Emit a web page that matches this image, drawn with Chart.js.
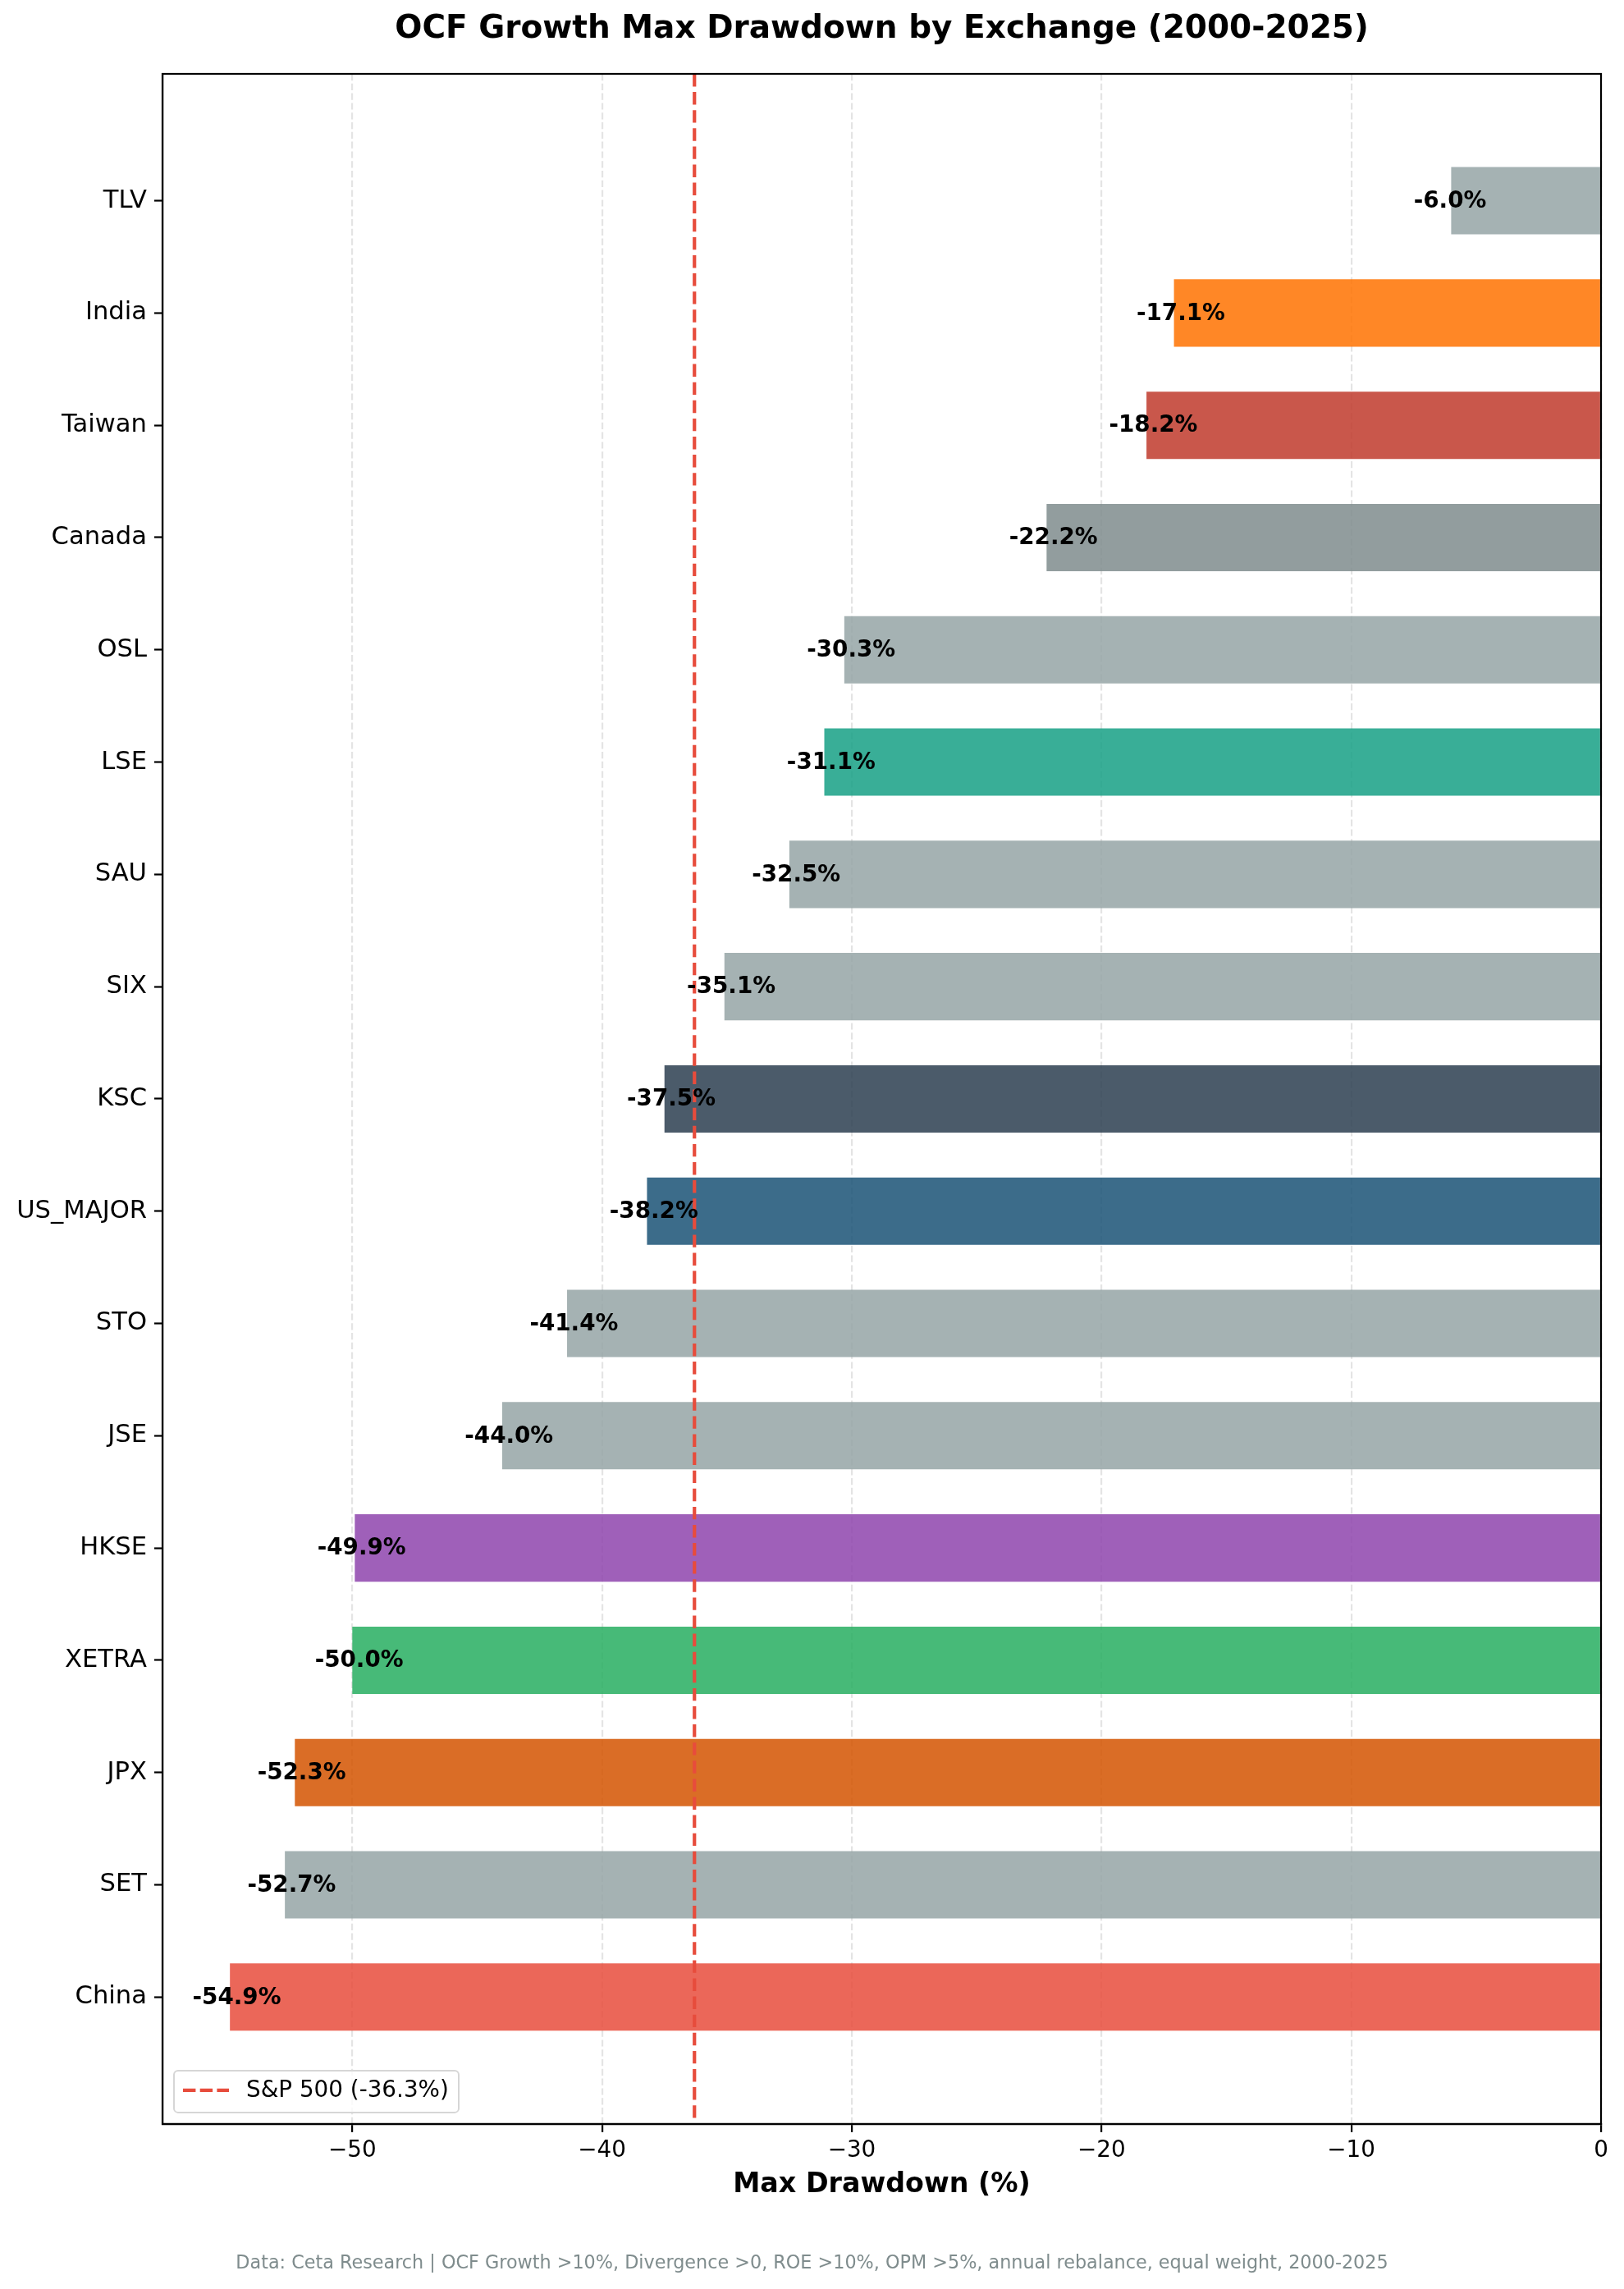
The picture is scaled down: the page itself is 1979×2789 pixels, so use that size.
<!DOCTYPE html>
<html>
<head>
<meta charset="utf-8">
<script src="https://cdn.jsdelivr.net/npm/chart.js@4.4.1/dist/chart.umd.min.js"></script>
<style>
  html, body { margin: 0; padding: 0; background: #ffffff; }
  #wrap { width: 1979px; height: 2789px; }
</style>
</head>
<body>
<div id="wrap"><canvas id="c" width="1979" height="2789"></canvas></div>
<script>
// ---- data (bottom to top) ----
const categories = ["China", "SET", "JPX", "XETRA", "HKSE", "JSE", "STO", "US_MAJOR", "KSC", "SIX", "SAU", "LSE", "OSL", "Canada", "Taiwan", "India", "TLV"];
const drawdowns = [-54.9, -52.7, -52.3, -50.0, -49.9, -44.0, -41.4, -38.2, -37.5, -35.1, -32.5, -31.1, -30.3, -22.2, -18.2, -17.1, -6.0];
const sp500Drawdown = -36.3;
const xTicks = [-50, -40, -30, -20, -10, 0];
const barColors = ["#e74c3c", "#95a5a6", "#d35400", "#27ae60", "#8e44ad", "#95a5a6", "#95a5a6", "#1a5276", "#2c3e50", "#95a5a6", "#95a5a6", "#16a085", "#95a5a6", "#7f8c8d", "#c0392b", "#ff7200", "#95a5a6"];
const titleText = "OCF Growth Max Drawdown by Exchange (2000-2025)";
const xTitleText = "Max Drawdown (%)";
const legendText = "S&P 500 (-36.3%)";
const footerText = "Data: Ceta Research | OCF Growth >10%, Divergence >0, ROE >10%, OPM >5%, annual rebalance, equal weight, 2000-2025";

const FONT = "'DejaVu Sans', 'Noto Sans', sans-serif";

function hexA(hex, a) {
  const n = parseInt(hex.slice(1), 16);
  return `rgba(${(n >> 16) & 255},${(n >> 8) & 255},${n & 255},${a})`;
}

const overlay = {
  id: 'overlay',
  afterDatasetsDraw(chart) {
    const ctx = chart.ctx;
    const xs = chart.scales.x, ys = chart.scales.y;
    const a = chart.chartArea;
    // S&P 500 reference line
    ctx.save();
    ctx.strokeStyle = '#e74c3c';
    ctx.lineWidth = 4.2;
    ctx.setLineDash([15.4, 6.7]);
    const sx = xs.getPixelForValue(sp500Drawdown);
    ctx.beginPath();
    ctx.moveTo(sx, a.top);
    ctx.lineTo(sx, a.bottom);
    ctx.stroke();
    ctx.restore();
    // value labels (left-aligned just left of the bar end)
    ctx.save();
    ctx.fillStyle = '#000000';
    ctx.font = `bold 27.8px ${FONT}`;
    ctx.textAlign = 'left';
    ctx.textBaseline = 'middle';
    drawdowns.forEach((v, i) => {
      ctx.fillText(v.toFixed(1) + '%', xs.getPixelForValue(v - 1.5), ys.getPixelForValue(i) + 1);
    });
    ctx.restore();
    // frame
    ctx.save();
    ctx.strokeStyle = '#000000';
    ctx.lineWidth = 2.2;
    ctx.setLineDash([]);
    ctx.strokeRect(a.left, a.top, a.right - a.left, a.bottom - a.top);
    ctx.restore();
    // legend
    ctx.save();
    const lx = a.left + 14, ly = a.bottom - 65, lw = 347, lh = 51, r = 5;
    ctx.beginPath();
    ctx.moveTo(lx + r, ly);
    ctx.arcTo(lx + lw, ly, lx + lw, ly + lh, r);
    ctx.arcTo(lx + lw, ly + lh, lx, ly + lh, r);
    ctx.arcTo(lx, ly + lh, lx, ly, r);
    ctx.arcTo(lx, ly, lx + lw, ly, r);
    ctx.closePath();
    ctx.fillStyle = 'rgba(255,255,255,0.8)';
    ctx.fill();
    ctx.strokeStyle = '#d6d6d6';
    ctx.lineWidth = 2;
    ctx.stroke();
    ctx.strokeStyle = '#e74c3c';
    ctx.lineWidth = 4.2;
    ctx.setLineDash([15.4, 5.3]);
    ctx.beginPath();
    ctx.moveTo(lx + 11, ly + 24);
    ctx.lineTo(lx + 67, ly + 24);
    ctx.stroke();
    ctx.setLineDash([]);
    ctx.fillStyle = '#000000';
    ctx.font = `27.8px ${FONT}`;
    ctx.textAlign = 'left';
    ctx.textBaseline = 'middle';
    ctx.fillText(legendText, lx + 88, ly + 25);
    ctx.restore();
  }
};

new Chart(document.getElementById('c'), {
  type: 'bar',
  data: {
    datasets: [{
      data: categories.map((c, i) => ({ x: drawdowns[i], y: i })),
      backgroundColor: barColors.map(c => hexA(c, 0.85)),
      borderWidth: 0,
      barPercentage: 0.6,
      categoryPercentage: 1.0
    }]
  },
  options: {
    indexAxis: 'y',
    responsive: false,
    animation: false,
    devicePixelRatio: 1,
    layout: { padding: { left: 0, right: 0, top: 0, bottom: 0 } },
    plugins: {
      legend: { display: false },
      tooltip: { enabled: false },
      title: {
        display: true,
        text: titleText,
        fullSize: false,
        color: '#000000',
        font: { family: FONT, size: 39, weight: 'bold', lineHeight: 1.2 },
        padding: { top: 12.6, bottom: 30.6 }
      },
      subtitle: {
        display: true,
        position: 'bottom',
        text: footerText,
        color: '#7f8c8d',
        font: { family: FONT, size: 22.3, lineHeight: 1.2 },
        padding: { top: 10, bottom: 17.7 }
      }
    },
    scales: {
      x: {
        type: 'linear',
        min: -57.6,
        max: 0,
        afterBuildTicks: (s) => { s.ticks = xTicks.map(v => ({ value: v })); },
        afterFit: (s) => { s.height = 146.66; s.paddingRight = 28; },
        ticks: {
          color: '#000000',
          font: { family: FONT, size: 27.8 },
          padding: 6,
          maxRotation: 0,
          callback: (v) => (v < 0 ? '\u2212' + Math.abs(v) : String(v))
        },
        grid: {
          display: true,
          drawOnChartArea: true,
          color: '#e4e4e4',
          lineWidth: 2.2,
          drawTicks: true,
          tickLength: 10,
          tickColor: '#000000',
          tickWidth: 2.2,
          tickBorderDash: []
        },
        border: { display: true, color: '#000000', width: 2.2, dash: [8.2, 3.6] },
        title: {
          display: true,
          text: xTitleText,
          color: '#000000',
          font: { family: FONT, size: 33.3, weight: 'bold', lineHeight: 1.2 },
          padding: { top: 0, bottom: 52.6 }
        }
      },
      y: {
        type: 'linear',
        offset: false,
        min: -1.13,
        max: 17.13,
        afterBuildTicks: (s) => { s.ticks = categories.map((c, i) => ({ value: i })); },
        afterFit: (s) => { s.width = 198; },
        ticks: {
          color: '#000000',
          font: { family: FONT, size: 30.6 },
          padding: 9,
          autoSkip: false,
          callback: (v) => categories[v]
        },
        grid: {
          display: true,
          offset: false,
          drawOnChartArea: false,
          drawTicks: true,
          tickLength: 10,
          tickColor: '#000000',
          tickWidth: 2.2
        },
        border: { display: true, color: '#000000', width: 2.2 }
      }
    }
  },
  plugins: [overlay]
});
</script>
</body>
</html>
